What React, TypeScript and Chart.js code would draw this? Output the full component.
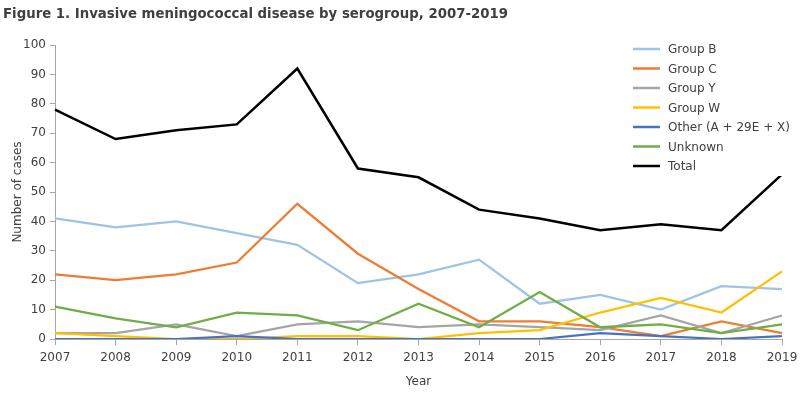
import React, { useEffect, useRef } from "react";
import { Chart, registerables } from "chart.js";

Chart.register(...registerables);

const years = ["2007","2008","2009","2010","2011","2012","2013","2014","2015","2016","2017","2018","2019"];
const groupB = [41, 38, 40, 36, 32, 19, 22, 27, 12, 15, 10, 18, 17];
const groupC = [22, 20, 22, 26, 46, 29, 17, 6, 6, 4, 1, 6, 2];
const groupY = [2, 2, 5, 1, 5, 6, 4, 5, 4, 3, 8, 2, 8];
const groupW = [2, 1, 0, 0, 1, 1, 0, 2, 3, 9, 14, 9, 23];
const other = [0, 0, 0, 1, 0, 0, 0, 0, 0, 2, 1, 0, 1];
const unknown = [11, 7, 4, 9, 8, 3, 12, 4, 16, 4, 5, 2, 5];
const total = [78, 68, 71, 73, 92, 58, 55, 44, 41, 37, 39, 37, 56];

const seriesNames = ["Group B", "Group C", "Group Y", "Group W", "Other (A + 29E + X)", "Unknown", "Total"];
const seriesData = [groupB, groupC, groupY, groupW, other, unknown, total];
const seriesColors = ["#9DC3E6", "#ED7D31", "#A5A5A5", "#FFC000", "#4472C4", "#70AD47", "#000000"];

const titleText = "Figure 1. Invasive meningococcal disease by serogroup, 2007-2019";
const FONT = "'DejaVu Sans', sans-serif";
const TEXT = "#404040";
const AXIS = "#A6A6A6";

export default function App() {
  const ref = useRef<HTMLCanvasElement>(null);
  useEffect(() => {
    document.body.style.margin = "0";
    const canvas = ref.current!;
    const overlay = {
      id: "overlay",
      afterDatasetsDraw(chart: any) {
        const ctx = chart.ctx;
        ctx.save();
        // legend box
        ctx.fillStyle = "#fff";
        ctx.fillRect(628, 37, 172, 139);
        ctx.font = `12px ${FONT}`;
        ctx.textBaseline = "middle";
        ctx.textAlign = "left";
        seriesNames.forEach((n, i) => {
          const y = 49 + i * 19.5;
          ctx.strokeStyle = seriesColors[i];
          ctx.lineWidth = 2.5;
          ctx.beginPath();
          ctx.moveTo(633, y);
          ctx.lineTo(660, y);
          ctx.stroke();
          ctx.fillStyle = TEXT;
          ctx.fillText(n, 668, y + 1);
        });
        // title
        ctx.fillStyle = TEXT;
        ctx.font = `bold 13.3px ${FONT}`;
        ctx.textBaseline = "alphabetic";
        ctx.fillText(titleText, 3, 18);
        ctx.restore();
      },
    };
    const chart = new Chart(canvas, {
      type: "line",
      data: {
        labels: years,
        datasets: seriesData.map((d, i) => ({
          label: seriesNames[i],
          data: d,
          borderColor: seriesColors[i],
          backgroundColor: seriesColors[i],
          borderWidth: i === 6 ? 2.5 : 2.25,
          pointRadius: 0,
          tension: 0,
          order: 10 - i,
        })),
      },
      options: {
        responsive: false,
        animation: false,
        layout: { padding: { top: 45, right: 18, left: 0, bottom: 0 } },
        plugins: { legend: { display: false }, tooltip: { enabled: false }, title: { display: false } },
        scales: {
          x: {
            grid: { drawOnChartArea: false, drawTicks: true, tickLength: 6, color: AXIS },
            border: { display: true, color: AXIS, width: 1 },
            ticks: { color: TEXT, font: { family: FONT, size: 12 }, padding: 6, maxRotation: 0 },
            title: { display: true, text: "Year", color: TEXT, font: { family: FONT, size: 12 }, padding: { top: 8, bottom: 5 } },
            afterFit: (s: any) => { s.height = 55; s.paddingRight = 0; s.paddingLeft = 0; },
          },
          y: {
            min: 0,
            max: 100,
            grid: { drawOnChartArea: false, drawTicks: true, tickLength: 5, color: AXIS },
            border: { display: true, color: AXIS, width: 1 },
            ticks: { stepSize: 10, color: TEXT, font: { family: FONT, size: 12 }, padding: 4 },
            title: { display: true, text: "Number of cases", color: TEXT, font: { family: FONT, size: 12 }, padding: { top: 11, bottom: 4 } },
            afterFit: (s: any) => { s.width = 55; s.paddingTop = 0; s.paddingBottom = 0; },
          },
        },
      },
      plugins: [overlay],
    });
    return () => chart.destroy();
  }, []);
  return (
    <div style={{ width: 800, height: 394, background: "#fff" }}>
      <canvas ref={ref} width={800} height={394} style={{ display: "block" }} />
    </div>
  );
}
